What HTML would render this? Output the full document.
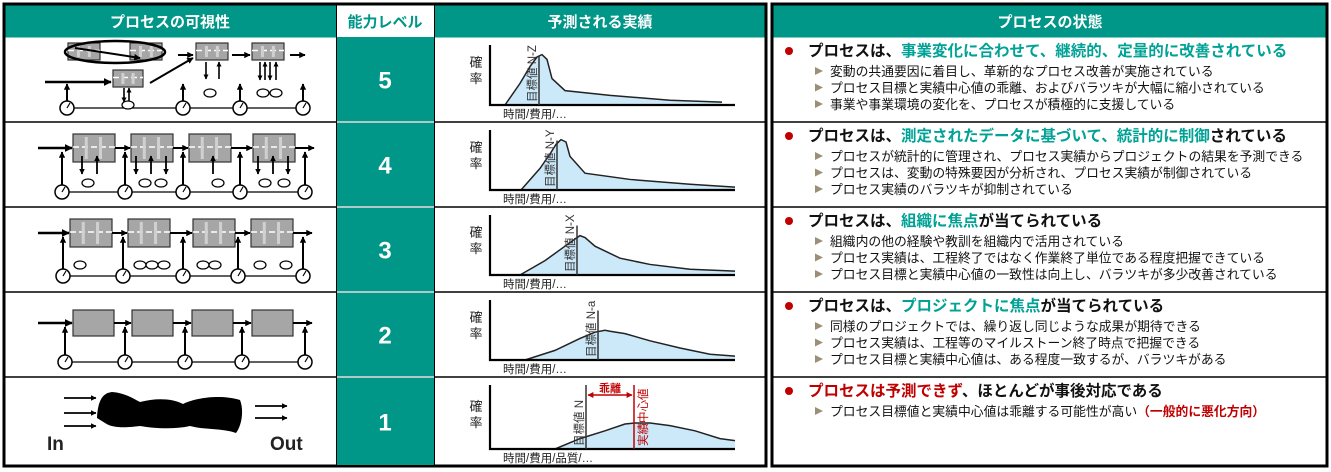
<!DOCTYPE html>
<html><head><meta charset="utf-8"><style>
html,body{margin:0;padding:0;background:#fff;width:1331px;height:472px;overflow:hidden}
svg{display:block;font-family:"Liberation Sans","Noto Sans CJK JP",sans-serif}
</style></head><body>
<svg id="s" width="1331" height="472" viewBox="0 0 1331 472">
<defs>
<marker id="ah" viewBox="0 0 10 10" refX="9" refY="5" markerWidth="3.2" markerHeight="3.2" orient="auto"><path d="M0,0L10,5L0,10z" fill="#000"/></marker>
<marker id="rh" viewBox="0 0 10 10" refX="9" refY="5" markerWidth="4" markerHeight="4" orient="auto-start-reverse"><path d="M0,0L10,5L0,10z" fill="#c00000"/></marker>
</defs>
<g>
<rect x="4" y="4" width="762" height="462" fill="#fff" stroke="#000" stroke-width="3"/>
<rect x="5.5" y="5.5" width="759" height="32" fill="#009688"/>
<rect x="337" y="5.5" width="97" height="32" fill="#fff"/>
<rect x="337" y="37" width="97" height="428" fill="#009688"/>
<text x="170" y="27" text-anchor="middle" font-size="15" font-weight="bold" fill="#fff">プロセスの可視性</text>
<text x="385" y="27" text-anchor="middle" font-size="15" font-weight="bold" fill="#009688">能力レベル</text>
<text x="600" y="27" text-anchor="middle" font-size="15" font-weight="bold" fill="#fff">予測される実績</text>
<g id="rowlines"></g>
<g id="levels"></g>
<g id="charts"></g>
<g id="diagrams"></g>
</g>
<g>
<rect x="772" y="4" width="555" height="462" fill="#fff" stroke="#000" stroke-width="3"/>
<rect x="773.5" y="5.5" width="552" height="32" fill="#009688"/>
<text x="1050" y="27" text-anchor="middle" font-size="15" font-weight="bold" fill="#fff">プロセスの状態</text>
<g id="states"></g>
</g>
</svg>
<script>
const NS='http://www.w3.org/2000/svg';
function mk(parent,tag,attrs,txt){const e=document.createElementNS(NS,tag);for(const k in attrs)e.setAttribute(k,attrs[k]);if(txt!==undefined)e.textContent=txt;parent.appendChild(e);return e;}
const rowTops=[37,122,207,292,377];
const rowBottoms=[122,207,292,377,466];
const levels=['5','4','3','2','1'];
const curveX=[
 [15,30,40,47,52,57,62,75,120,180,232],
 [31,50,60,66,71,76,80,95,140,200,245],
 [30,55,75,85,90,95,105,130,160,200,245],
 [35,65,90,105,115,120,135,160,190,220,245],
 [65,90,115,135,145,160,180,205,230,245]
];
const curveY=[
 [0,0.45,0.8,1.0,1.05,0.95,0.55,0.3,0.2,0.1,0.06],
 [0,0.45,0.75,0.95,1.05,1.0,0.7,0.35,0.22,0.12,0.06],
 [0,0.3,0.6,0.75,0.82,0.78,0.6,0.35,0.22,0.12,0.08],
 [0,0.2,0.45,0.58,0.62,0.6,0.55,0.4,0.25,0.12,0.08],
 [0,0.2,0.35,0.48,0.5,0.5,0.45,0.35,0.2,0.16,0.15]
];
const targetX=[49,67,87,108,96];
const targetLabels=['目標値 N-Z','目標値 N-Y','目標値 N-X','目標値 N-a','目標値 N'];
const xLabels=['時間/費用/…','時間/費用/…','時間/費用/…','時間/費用/…','時間/費用/品質/…'];
const actualX=144;

const rl=document.getElementById('rowlines');
for(let i=1;i<5;i++){
 const l=mk(rl,'line',{x1:5,x2:765,y1:rowTops[i],y2:rowTops[i],stroke:'#000','stroke-width':1.5});
 
 
 const w=mk(rl,'line',{x1:337,x2:434,y1:rowTops[i],y2:rowTops[i],stroke:'#e8f5f3','stroke-width':1.5});
 
 
}
for(const x of [336.5,434.5]){const v=mk(rl,'line',{x1:x,x2:x,y1:5,y2:465,stroke:'#000','stroke-width':1});}
const lv=document.getElementById('levels');
levels.forEach((t,i)=>{
 const e=mk(lv,'text',{x:385,y:(rowTops[i]+rowBottoms[i])/2+9,'text-anchor':'middle','font-size':24,'font-weight':'bold',fill:'#fff'},t);
 
 
});
const ch=document.getElementById('charts');
levels.forEach((t,i)=>{
 const g=mk(ch,'g',{});
 
 
 const ax=490, top=rowTops[i]+8, base=rowBottoms[i]-17, H=base-top-12, right=735;
 const px=v=>ax+v, py=f=>base-f*H;
 let d='M'+px(curveX[i][0])+','+base;
 curveX[i].forEach((x,j)=>{d+=' L'+px(x)+','+py(curveY[i][j]);});
 const last=curveX[i].length-1;
 const area=mk(g,'path',{d:d+' L'+px(curveX[i][last])+','+base+'Z',fill:'#cce9fa',stroke:'none'});
 
 
 const line=mk(g,'path',{d:d.replace(/^M[^L]*L/,'M'),fill:'none',stroke:'#222','stroke-width':1.5});
 
 
 const axes=mk(g,'path',{d:`M${ax},${top} V${base} H${right}`,fill:'none',stroke:'#000','stroke-width':2.2});
 
 
 const ya=mk(g,'text',{x:476,y:base-38,'text-anchor':'middle','font-size':13,fill:'#222'},'確');
 
 
 const yb=mk(g,'text',{x:476,y:base-22,'text-anchor':'middle','font-size':13,fill:'#222'},'率');
 
 
 const xl=mk(g,'text',{x:503,y:base+13,'font-size':11.5,fill:'#222'},xLabels[i]);
 
 
 const tx=px(targetX[i]);
 const tl=mk(g,'line',{x1:tx,x2:tx,y1:i==4?top:base-H*1.03,y2:base,stroke:'#333','stroke-width':1.5});
 
 
 const tt=mk(g,'text',{x:0,y:0,'font-size':11.5,fill:'#333',transform:`translate(${tx-3},${base-3}) rotate(-90)`},targetLabels[i]);
 
 
 if(i==4){
  const axp=px(actualX);
  const al=mk(g,'line',{x1:axp,x2:axp,y1:top,y2:base,stroke:'#c00000','stroke-width':1.5});
  
  
  const at=mk(g,'text',{x:0,y:0,'font-size':11.5,fill:'#c00000',transform:`translate(${axp+13},${base-3}) rotate(-90)`},'実績中心値');
  
  
  const da=mk(g,'line',{x1:tx+2,x2:axp-2,y1:top+10,y2:top+10,stroke:'#c00000','stroke-width':1.5,'marker-start':'url(#rh)','marker-end':'url(#rh)'});
  
  
  const dt=mk(g,'text',{x:(tx+axp)/2,y:top+7,'text-anchor':'middle','font-size':11,'font-weight':'bold',fill:'#c00000'},'乖離');
  
  
 }
});
const dg=document.getElementById('diagrams');
function arrow(g,x1,y1,x2,y2,w){const a=mk(g,'line',{x1,y1,x2,y2,stroke:'#000','stroke-width':w||2,'marker-end':'url(#ah)'});}
function clock(g,x,y){const c=mk(g,'circle',{cx:x,cy:y,r:7,fill:'#fff',stroke:'#000','stroke-width':1.5});mk(g,'line',{x1:x,y1:y,x2:x+3,y2:y-5,stroke:'#000','stroke-width':1.2});}
function oval(g,x,y){const o=mk(g,'ellipse',{cx:x,cy:y,rx:6,ry:4,fill:'#fff',stroke:'#000','stroke-width':1.2});}
function box(g,x,y,w,h,plain){const b=mk(g,'rect',{x,y,width:w,height:h,fill:'#a6a6a6',stroke:'#333','stroke-width':1.2});
 if(!plain){mk(g,'line',{x1:x,x2:x+w,y1:y+h/2-1,y2:y+h/2-1,stroke:'#fff','stroke-width':1.5,'stroke-dasharray':'6 3'});mk(g,'rect',{x:x+w*0.28,y:y+3,width:3,height:h-6,fill:'#d0d0d0'});mk(g,'rect',{x:x+w*0.62,y:y+3,width:3,height:h-6,fill:'#d0d0d0'});}}
function chain(g,y,bx,bw,bh,cy,cx,plain){
 arrow(g,38,y+bh/2,bx[0]-1,y+bh/2,2.5);
 bx.forEach((x,k)=>{box(g,x,y,bw,bh,plain);const nx=k<bx.length-1?bx[k+1]:x+bw+20;arrow(g,x+bw,y+bh/2,nx-1,y+bh/2,2);});
 const ln=mk(g,'line',{x1:cx[0],x2:cx[cx.length-1],y1:cy,y2:cy,stroke:'#000','stroke-width':1.2});
 cx.forEach(x=>{arrow(g,x,cy-7,x,y+bh/2+4,2);clock(g,x,cy);});
}
let g2=mk(dg,'g',{});
chain(g2,310,[73,132,192,252],41,26,362,[65,125,185,242,305],true);
let g3=mk(dg,'g',{});
chain(g3,219,[70,128,193,251],42,28,276,[63,123,183,238,303],false);
[[80,265],[140,265],[152,265],[164,265],[203,265],[215,265],[260,265],[286,265]].forEach(p=>oval(g3,p[0],p[1]));
let g4=mk(dg,'g',{});
chain(g4,134,[73,131,189,253],42,28,192,[62,125,183,240,305],false);
[[88,183],[145,183],[161,183],[218,183],[265,183],[284,183]].forEach(p=>oval(g4,p[0],p[1]));
[[82,162],[97,162],[136,162],[151,162],[166,162],[213,162],[258,162],[273,162],[288,162]].forEach((p,k)=>{arrow(g4,p[0],k%2?p[1]+12:p[1]-6,p[0],k%2?p[1]-6:p[1]+12,1.8);});
let g5=mk(dg,'g',{});
box(g5,68,43,32,17);box(g5,130,43,32,17);
const el=mk(g5,'ellipse',{cx:115,cy:52,rx:50,ry:11,fill:'none',stroke:'#000','stroke-width':2.5});
arrow(g5,75,48,140,58,2);
box(g5,113,70,30,17);box(g5,196,43,32,17);box(g5,252,43,32,17);
arrow(g5,45,82,111,82,2.5);arrow(g5,150,83,193,58,2);arrow(g5,178,55,193,55,2);arrow(g5,232,55,250,55,2);arrow(g5,290,55,305,55,2);
const l5=mk(g5,'line',{x1:67,x2:303,y1:108,y2:108,stroke:'#000','stroke-width':1.2});
[67,183,240,303].forEach(x=>{arrow(g5,x,101,x,84,2);clock(g5,x,108);});
arrow(g5,124,88,124,102,1.6);arrow(g5,129,102,129,88,1.6);oval(g5,128,105);
arrow(g5,206,62,206,79,1.6);arrow(g5,219,79,219,62,1.6);oval(g5,210,93);
[260,265,270,276].forEach((x,k)=>arrow(g5,x,k%2?80:62,x,k%2?62:80,1.6));oval(g5,263,93);oval(g5,276,93);
let g1=mk(dg,'g',{});
const blob=mk(g1,'path',{d:'M97,418 C98,398 104,393 112,392 C125,393 132,398 140,402 C155,398 172,398 183,404 C195,398 220,394 240,400 C244,410 242,425 236,433 C222,428 205,430 190,426 C172,430 152,428 140,426 C125,428 112,428 105,423 Z',fill:'#000'});


[398,413,426].forEach(y=>arrow(g1,64,y,96,y,1.8));
[406,418].forEach(y=>arrow(g1,255,y,287,y,1.8));
const tin=mk(g1,'text',{x:47,y:450,'font-size':19,'font-weight':'bold',fill:'#222'},'In');


const tout=mk(g1,'text',{x:270,y:450,'font-size':19,'font-weight':'bold',fill:'#222'},'Out');


const headPre=['プロセスは、','プロセスは、','プロセスは、','プロセスは、',''];
const headHi=['事業変化に合わせて、継続的、定量的に改善されている','測定されたデータに基づいて、統計的に制御','組織に焦点','プロジェクトに焦点','プロセスは予測できず'];
const headPost=['','されている','が当てられている','が当てられている','、ほとんどが事後対応である'];
const headColor=['#00a296','#00a296','#00a296','#00a296','#c00000'];
const subs=[
 ['変動の共通要因に着目し、革新的なプロセス改善が実施されている','プロセス目標と実績中心値の乖離、およびバラツキが大幅に縮小されている','事業や事業環境の変化を、プロセスが積極的に支援している'],
 ['プロセスが統計的に管理され、プロセス実績からプロジェクトの結果を予測できる','プロセスは、変動の特殊要因が分析され、プロセス実績が制御されている','プロセス実績のバラツキが抑制されている'],
 ['組織内の他の経験や教訓を組織内で活用されている','プロセス実績は、工程終了ではなく作業終了単位である程度把握できている','プロセス目標と実績中心値の一致性は向上し、バラツキが多少改善されている'],
 ['同様のプロジェクトでは、繰り返し同じような成果が期待できる','プロセス実績は、工程等のマイルストーン終了時点で把握できる','プロセス目標と実績中心値は、ある程度一致するが、バラツキがある'],
 ['プロセス目標値と実績中心値は乖離する可能性が高い']
];
const st=document.getElementById('states');
for(let i=0;i<5;i++){
 const t=rowTops[i];
 if(i>0){const l=mk(st,'line',{x1:773,x2:1326,y1:t,y2:t,stroke:'#000','stroke-width':1.5});}
 const g=mk(st,'g',{});
 
 
 const dot=mk(g,'circle',{cx:789,cy:t+14,r:4,fill:'#c00000'});
 
 
 const h=mk(g,'text',{x:808,y:t+19,'font-size':15.5,'font-weight':'bold',fill:'#111'});
 
 
 if(headPre[i])mk(h,'tspan',{},headPre[i]);
 mk(h,'tspan',{fill:headColor[i]},headHi[i]);
 mk(h,'tspan',{},headPost[i]);
 subs[i].forEach((s,k)=>{
  const y=t+39+k*16.5;
  const tri=mk(g,'path',{d:`M815,${y-9} L823,${y-5} L815,${y-1}Z`,fill:'#9c8f76'});
  
  
  const tx=mk(g,'text',{x:830,y:y,'font-size':12.8,fill:'#111'},s);
  
  
  if(i==4){mk(tx,'tspan',{fill:'#c00000','font-weight':'bold'},'（一般的に悪化方向）');}
 });
}
</script>
</body></html>
